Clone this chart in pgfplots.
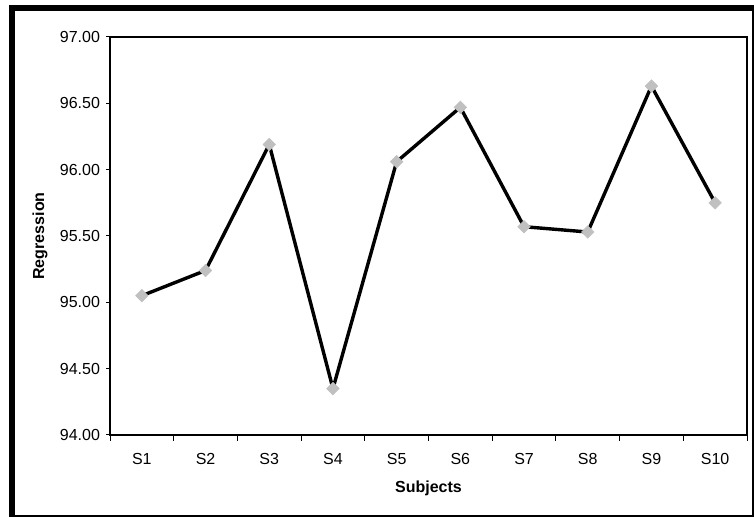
\documentclass[border=0pt]{standalone}
\usepackage{pgfplots}
\pgfplotsset{compat=1.18}
\usepackage{fontspec}
\setmainfont{Liberation Sans}

\definecolor{markgray}{RGB}{192,192,192}

\pgfplotstableread{
idx value
0 95.05
1 95.24
2 96.19
3 94.35
4 96.06
5 96.47
6 95.57
7 95.53
8 96.63
9 95.75
}\regdata

\begin{document}
\begin{tikzpicture}
  % page background and chart frame (1 px = 0.5pt)
  \useasboundingbox (0pt,0pt) rectangle (377pt,259pt);
  \fill[white] (0pt,0pt) rectangle (377pt,259pt);
  \fill[black] (4.5pt,253.5pt) rectangle (377pt,256.5pt);
  \fill[black] (4.5pt,0.5pt) rectangle (7.5pt,256.5pt);
  \fill[black] (4.5pt,0.5pt) rectangle (377pt,1.5pt);
  \fill[black] (376pt,0.5pt) rectangle (377pt,256.5pt);

  \begin{axis}[
    at={(55pt,41.5pt)}, anchor=south west,
    scale only axis,
    width=318.5pt, height=199pt,
    font=\fontsize{8}{9.6}\selectfont,
    axis line style={line width=1pt},
    xmin=-0.5, xmax=9.5,
    ymin=94, ymax=97,
    xtick={0,...,9},
    xticklabels={S1,S2,S3,S4,S5,S6,S7,S8,S9,S10},
    minor xtick={-0.5,0.5,...,9.5},
    ytick={94,94.5,...,97},
    tick align=outside,
    xtick pos=left, ytick pos=left,
    major x tick style={draw=none},
    major tick length=2pt,
    minor tick length=3pt,
    every tick/.style={black, line width=0.5pt},
    minor x tick style={black, line width=0.5pt},
    yticklabel style={xshift=0.5pt},
    xticklabel style={yshift=-3.5pt},
    /pgf/number format/.cd, fixed, fixed zerofill, precision=2, assume math mode=true,
    /pgfplots/.cd,
    xlabel={\textbf{Subjects}},
    ylabel={\textbf{Regression}},
    xlabel style={at={(axis description cs:0.5,-0.1332)}, anchor=center},
    ylabel style={at={(axis description cs:-0.1099,0.5)}, anchor=center},
  ]
    \addplot[black, line width=1.7pt,
      mark=square*, mark size=2.2pt,
      mark options={rotate=45, fill=markgray, draw=markgray, line width=0.3pt}]
      table[x=idx, y=value] {\regdata};
  \end{axis}
\end{tikzpicture}
\end{document}
